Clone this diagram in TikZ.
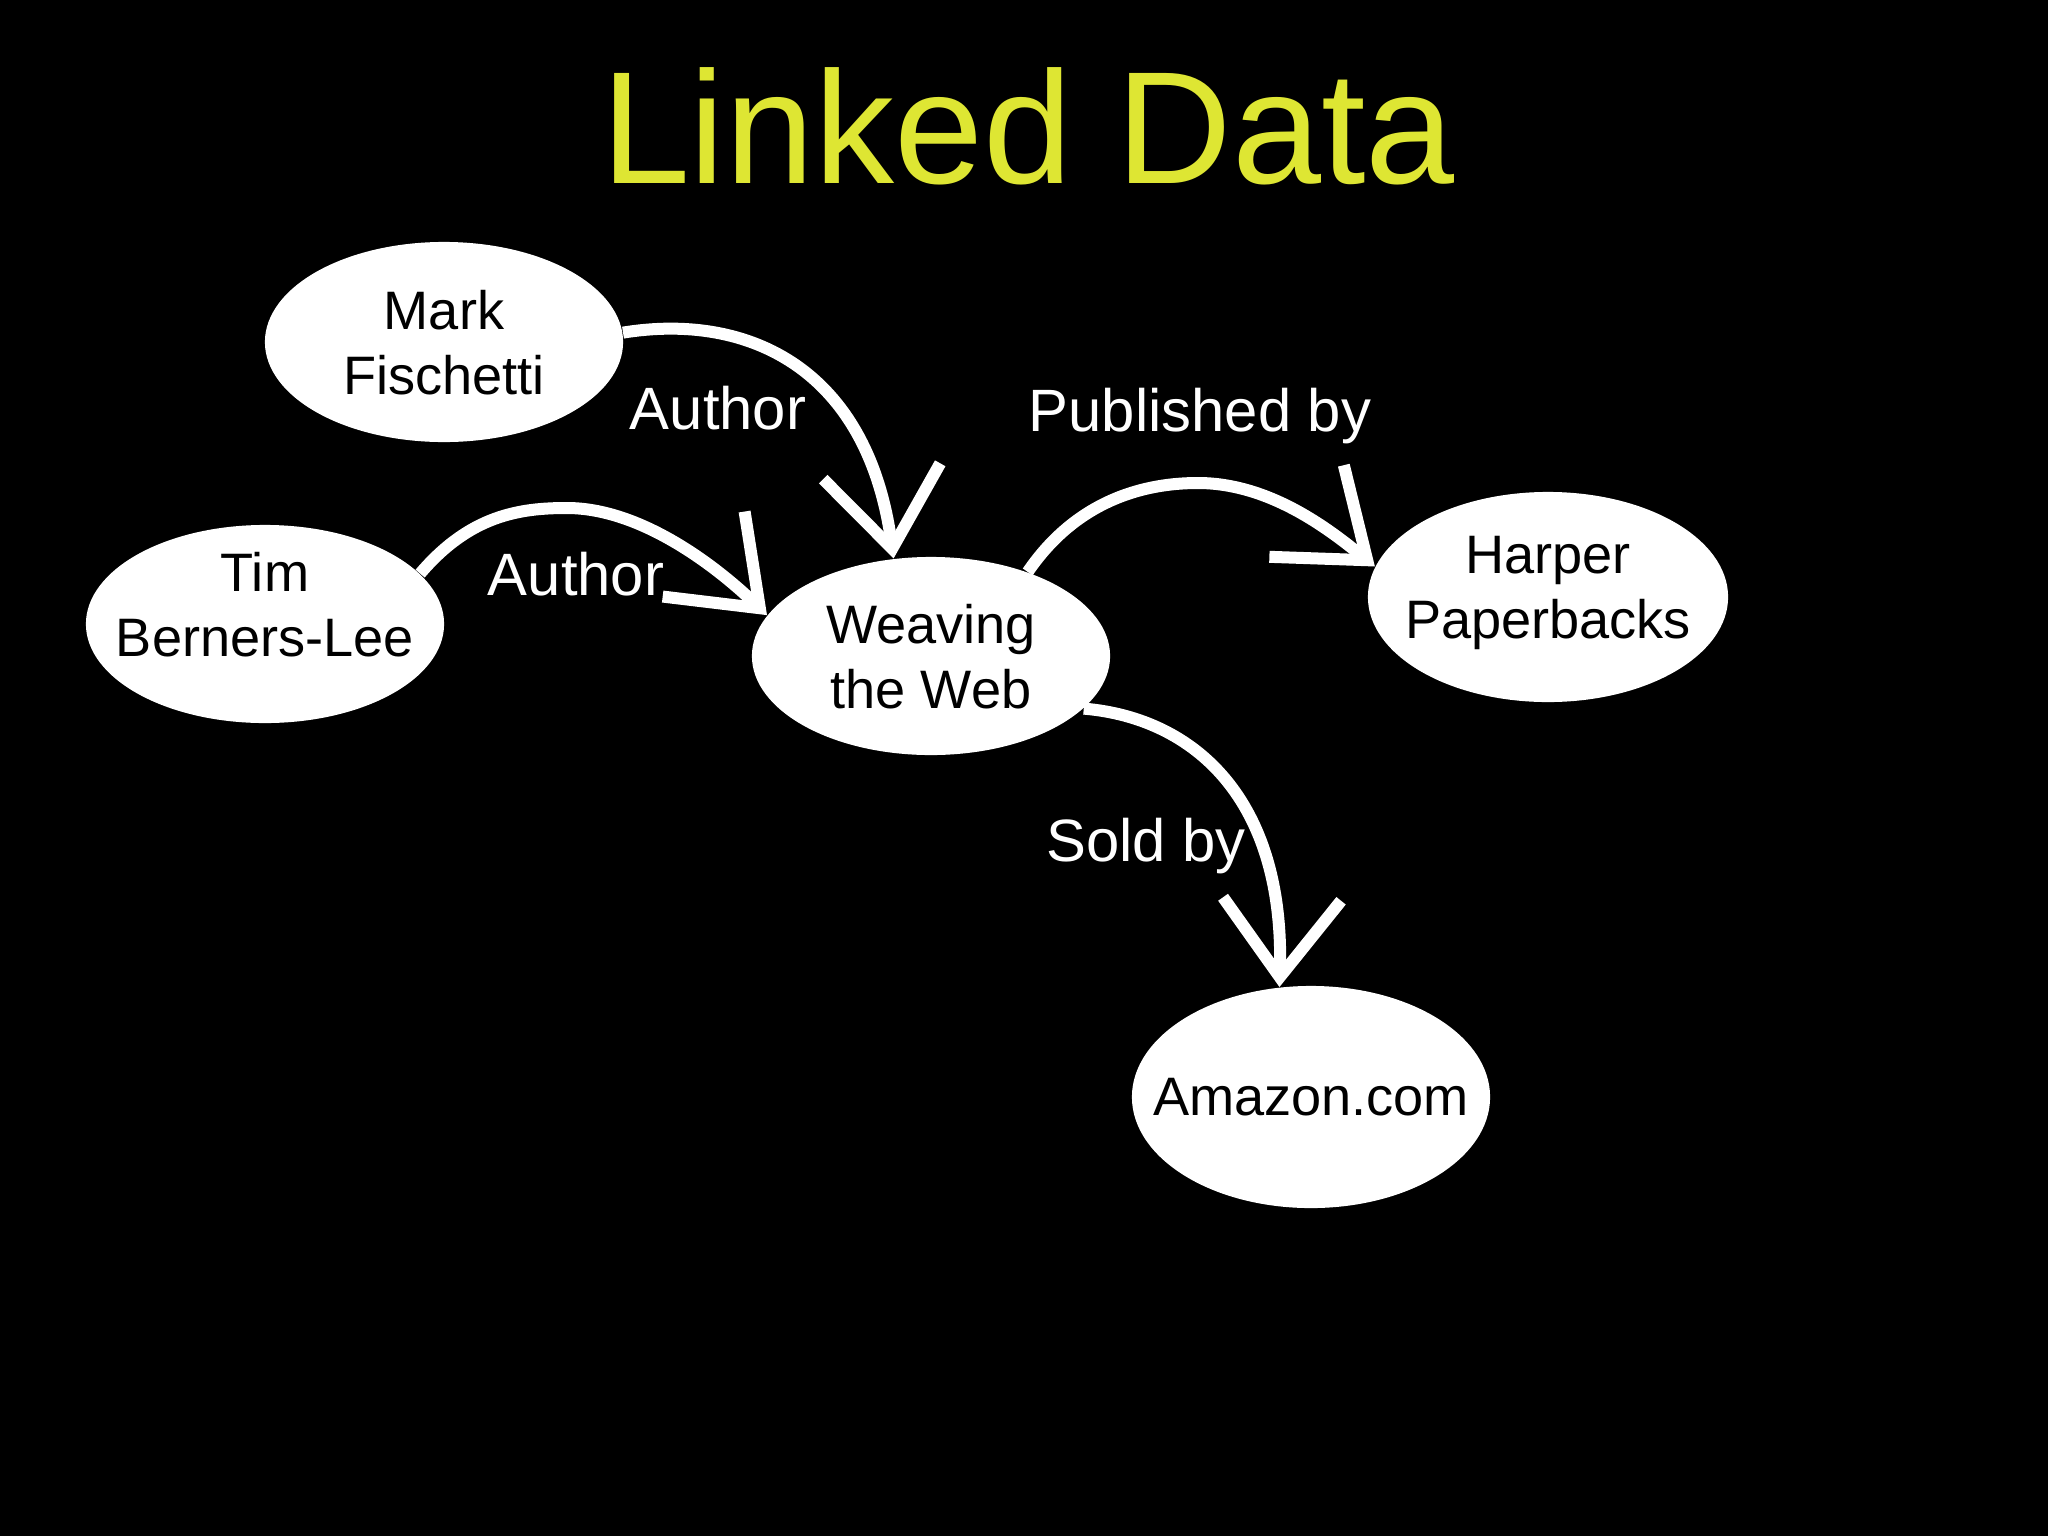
\documentclass[tikz,border=0pt]{standalone}
\usepackage{fontspec}
\setmainfont{Liberation Sans}
\usetikzlibrary{shapes.geometric,arrows.meta}
\definecolor{titlecol}{RGB}{222,230,51}
\tikzset{
  ent/.style={ellipse, fill=white, inner sep=0pt, minimum width=3.58cm},
  enttext/.style={text=black, align=center, inner sep=0pt, text depth=0pt,
    font=\fontsize{15.4pt}{18.5pt}\selectfont},
  rel/.style={draw=white, line width=0.12cm,
    -{Straight Barb[length=0.78cm, width=1.18cm]}},
  rellabel/.style={text=white, anchor=base, inner sep=0pt,
    font=\fontsize{17pt}{20pt}\selectfont},
}
\begin{document}
\begin{tikzpicture}[x=0.01cm, y=-0.01cm]
\fill[black] (0,0) rectangle (2048,1536);
\node[text=titlecol, anchor=base, inner sep=0pt, font=\fontsize{45.5pt}{50pt}\selectfont] (title) at (1028,183) {Linked Data};
% entities
\node[ent, minimum height=2.0cm, label={[enttext]center:Mark\\Fischetti}] (mf) at (444,342) {};
\node[ent, minimum height=1.98cm, label={[enttext, yshift=0.2cm]center:Tim\\Berners-Lee}] (tb) at (265,624) {};
\node[ent, minimum height=1.98cm, label={[enttext]center:Weaving\\the Web}] (ww) at (931,656) {};
\node[ent, minimum width=3.6cm, minimum height=2.1cm, label={[enttext, yshift=0.1cm]center:Harper\\Paperbacks}] (hp) at (1548,597) {};
\node[ent, minimum height=2.22cm, label={[enttext]center:Amazon.com}] (am) at (1311,1097) {};
% relations
\draw[rel] (mf.3) .. controls (750,312) and (868,370) .. (ww.111);
\draw[rel] (tb.18) .. controls (470,515) and (520,508) .. (567,508)
           .. controls (640,508) and (715,565) .. (ww.166);
\draw[rel] (ww.41) .. controls (1070,510) and (1130,483) .. (1198,483)
           .. controls (1270,483) and (1330,530) .. (hp.170);
\draw[rel] (ww.-19) .. controls (1195,718) and (1285,800) .. (am.106);
% relation labels
\node[rellabel] (l1) at (718,429) {Author};
\node[rellabel] (l2) at (576,595) {Author};
\node[rellabel] (l3) at (1200,431) {Published by};
\node[rellabel] (l4) at (1146,861) {Sold by};
\end{tikzpicture}
\end{document}
